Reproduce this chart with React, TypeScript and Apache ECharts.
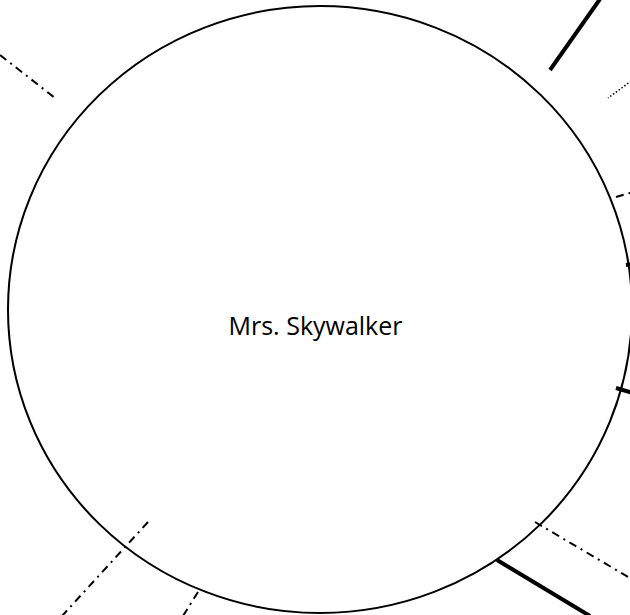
import React, { useEffect, useRef } from "react";
import * as echarts from "echarts";

// Visible node and edge fragments, in page pixel units (x right, y down)
const nodeName = "Mrs. Skywalker";
const nodeCenter = [320, 309.5];
const nodeSize = [624, 607];

const dashDotEdges = [
  [[0, 55], [55, 98]],
  [[616, 197], [640, 190]],
  [[535, 522], [640, 584]],
  [[148, 522], [62, 616]],
  [[198, 592], [183, 616]],
];
const thickEdges = [
  [[600, -1], [550, 70]],
  [[626, 265], [640, 263]],
  [[616, 388], [640, 395]],
  [[497, 560], [590, 616]],
];
const dottedEdges = [[[634, 79], [608, 98]]];

const W = 630;
const H = 615;

export default function App() {
  const ref = useRef<HTMLDivElement>(null);
  useEffect(() => {
    if (!ref.current) return;
    const chart = echarts.init(ref.current, undefined, { renderer: "svg" });
    const toData = (arr: number[][][]) => arr.map((c) => ({ coords: c }));
    chart.setOption({
      animation: false,
      backgroundColor: "#ffffff",
      grid: { left: 0, right: 0, top: 0, bottom: 0 },
      xAxis: { type: "value", min: 0, max: W, show: false },
      yAxis: { type: "value", min: 0, max: H, inverse: true, show: false },
      series: [
        {
          type: "scatter",
          z: 1,
          symbol: "path://M0,50 A50,50 0 1,1 100,50 A50,50 0 1,1 0,50 Z",
          symbolSize: nodeSize,
          itemStyle: { color: "#ffffff", borderColor: "#000000", borderWidth: 2, opacity: 1 },
          label: {
            show: true,
            position: "inside",
            formatter: nodeName,
            offset: [-4.5, 15],
            color: "#000000",
            fontFamily: "Open Sans",
            fontSize: 25,
          },
          emphasis: { disabled: true },
          data: [nodeCenter],
        },
        {
          type: "lines",
          coordinateSystem: "cartesian2d",
          z: 3,
          polyline: false,
          lineStyle: { color: "#000000", width: 2, type: [8, 5, 2, 5], cap: "butt", opacity: 1 },
          data: toData(dashDotEdges),
        },
        {
          type: "lines",
          coordinateSystem: "cartesian2d",
          z: 3,
          polyline: false,
          lineStyle: { color: "#000000", width: 4, type: "solid", opacity: 1 },
          data: toData(thickEdges),
        },
        {
          type: "lines",
          coordinateSystem: "cartesian2d",
          z: 3,
          polyline: false,
          lineStyle: { color: "#000000", width: 1.5, type: [1.5, 2], cap: "butt", opacity: 1 },
          data: toData(dottedEdges),
        },
      ],
    });
    return () => chart.dispose();
  }, []);
  return (
    <div
      ref={ref}
      style={{ position: "fixed", left: 0, top: 0, width: W, height: H }}
    />
  );
}
